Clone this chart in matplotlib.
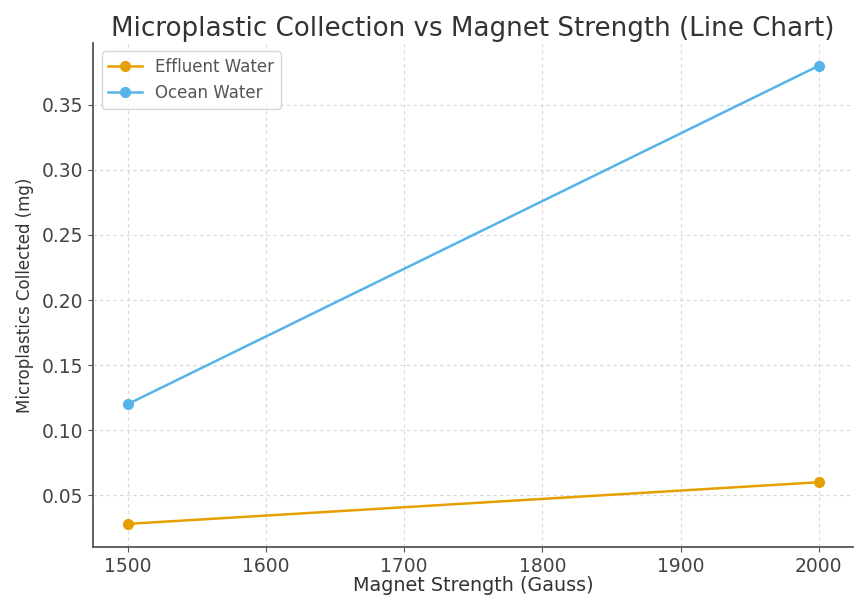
import matplotlib.pyplot as plt
import numpy as np

magnet_strength = [1500, 2000]
effluent_water = [0.028, 0.060]
ocean_water = [0.120, 0.380]
x_ticks = [1500, 1600, 1700, 1800, 1900, 2000]
y_ticks = [0.05, 0.10, 0.15, 0.20, 0.25, 0.30, 0.35]

fig = plt.figure(figsize=(8.55, 5.95), dpi=100)
ax = fig.add_axes([0.109, 0.081, 0.889, 0.847])

ax.plot(magnet_strength, effluent_water, marker='o', markersize=7, lw=1.8,
        color='#E69F00', label='Effluent Water')
ax.plot(magnet_strength, ocean_water, marker='o', markersize=7, lw=1.8,
        color='#56B4E9', label='Ocean Water')

ax.set_xticks(x_ticks)
ax.set_yticks(y_ticks)
ax.yaxis.set_major_formatter(plt.FormatStrFormatter('%.2f'))

# 只保留左边和下面的边框
ax.spines['right'].set_color('none')
ax.spines['top'].set_color('none')
for s in ['left', 'bottom']:
    ax.spines[s].set_color('#555555')
    ax.spines[s].set_linewidth(1.3)

ax.grid(True, linestyle=(0, (3, 3)), color='#d8d8d8', linewidth=0.8)
ax.tick_params(labelsize=13.5, colors='#555555', labelcolor='#444444')

ax.set_title('Microplastic Collection vs Magnet Strength (Line Chart)',
             fontsize=18.8, color='#333333', pad=5)
ax.set_xlabel('Magnet Strength (Gauss)', fontsize=13.8, color='#333333', labelpad=0)
ax.set_ylabel('Microplastics Collected (mg)', fontsize=12, color='#333333', labelpad=6)
ax.legend(loc='upper left', fontsize=12, labelcolor='#555555')

fig.savefig('out.png', dpi=100)
